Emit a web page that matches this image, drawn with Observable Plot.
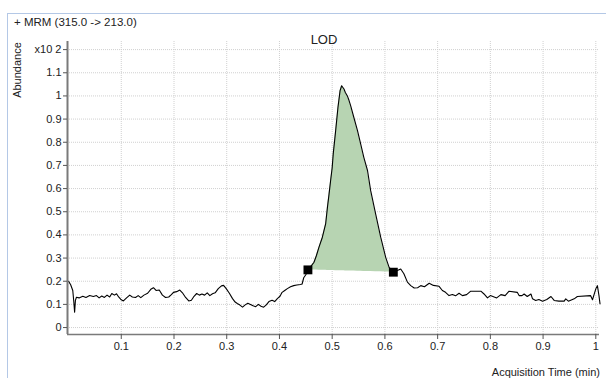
<!DOCTYPE html>
<html>
<head>
<meta charset="utf-8">
<script src="https://cdn.jsdelivr.net/npm/d3@7"></script>
<script src="https://cdn.jsdelivr.net/npm/@observablehq/plot@0.6"></script>
<style>
  html, body { margin: 0; padding: 0; background: #fff; }
  #wrap { position: relative; width: 606px; height: 378px; overflow: hidden; font-family: "Liberation Sans", Arial, sans-serif; }
  #wrap svg { position: absolute; left: 0; top: 0; }
  .frame { position: absolute; left: 7px; top: 13px; width: 600px; height: 370px; border-top: 1.5px solid #b4c8e6; border-left: 1.5px solid #b4c8e6; }
  .lbl { position: absolute; font-size: 11px; color: #222; white-space: nowrap; line-height: 1; }
</style>
</head>
<body>
<div id="wrap">
  <div class="frame"></div>
</div>
<script>
// Acquisition time (min)
const times = [
  0.000, 0.004, 0.008, 0.010, 0.0115, 0.013, 0.015, 0.020, 0.027, 0.033,
  0.040, 0.047, 0.053, 0.058, 0.063, 0.068, 0.073, 0.078, 0.082, 0.087,
  0.091, 0.095, 0.100, 0.104, 0.110, 0.116, 0.121, 0.127, 0.132, 0.137,
  0.143, 0.150, 0.156, 0.161, 0.166, 0.172, 0.178, 0.184, 0.190, 0.195,
  0.199, 0.205, 0.211, 0.216, 0.222, 0.228, 0.233, 0.238, 0.243, 0.248,
  0.253, 0.258, 0.263, 0.268, 0.273, 0.278, 0.284, 0.290, 0.294, 0.299,
  0.305, 0.311, 0.316, 0.320, 0.325, 0.330, 0.335, 0.340, 0.345, 0.350,
  0.355, 0.360, 0.365, 0.370, 0.375, 0.380, 0.386, 0.391, 0.396, 0.401,
  0.405, 0.410, 0.415, 0.421, 0.427, 0.433, 0.440, 0.443, 0.446, 0.450,
  0.454, 0.459, 0.4655, 0.470, 0.475, 0.4814, 0.4877, 0.491, 0.494, 0.497,
  0.500, 0.502, 0.5066, 0.511, 0.515, 0.518, 0.5224, 0.525, 0.5288, 0.532,
  0.535, 0.541, 0.548, 0.554, 0.560, 0.567, 0.573, 0.5825, 0.592, 0.6015,
  0.608, 0.616, 0.6237, 0.630, 0.636, 0.6427, 0.649, 0.6555, 0.662, 0.668,
  0.675, 0.684, 0.692, 0.7027, 0.709, 0.715, 0.7216, 0.728, 0.734, 0.7406,
  0.747, 0.755, 0.7628, 0.782, 0.788, 0.7945, 0.800, 0.806, 0.812, 0.820,
  0.828, 0.8355, 0.851, 0.8545, 0.860, 0.864, 0.870, 0.877, 0.880, 0.886,
  0.892, 0.899, 0.907, 0.915, 0.921, 0.930, 0.940, 0.943, 0.948, 0.959,
  0.965, 0.990, 0.9937, 1.000, 1.003, 1.006, 1.008
];
// Abundance (x10^2 counts)
const abundance = [
  0.200, 0.185, 0.160, 0.110, 0.066, 0.117, 0.131, 0.128, 0.135, 0.130,
  0.138, 0.134, 0.138, 0.128, 0.136, 0.130, 0.140, 0.132, 0.147, 0.140,
  0.146, 0.132, 0.120, 0.115, 0.128, 0.140, 0.132, 0.130, 0.138, 0.129,
  0.140, 0.148, 0.165, 0.172, 0.160, 0.162, 0.140, 0.130, 0.132, 0.142,
  0.152, 0.155, 0.162, 0.150, 0.130, 0.115, 0.118, 0.135, 0.147, 0.140,
  0.145, 0.140, 0.150, 0.138, 0.146, 0.150, 0.168, 0.180, 0.182, 0.168,
  0.148, 0.125, 0.110, 0.104, 0.097, 0.088, 0.098, 0.105, 0.100, 0.094,
  0.090, 0.100, 0.092, 0.088, 0.098, 0.112, 0.118, 0.112, 0.125, 0.135,
  0.152, 0.160, 0.168, 0.176, 0.181, 0.184, 0.186, 0.188, 0.215, 0.228,
  0.249, 0.262, 0.282, 0.310, 0.347, 0.390, 0.449, 0.519, 0.575, 0.634,
  0.690, 0.750, 0.850, 0.951, 1.023, 1.044, 1.030, 1.015, 1.000, 0.980,
  0.958, 0.908, 0.850, 0.793, 0.735, 0.678, 0.591, 0.490, 0.390, 0.303,
  0.260, 0.239, 0.246, 0.253, 0.232, 0.196, 0.181, 0.171, 0.172, 0.181,
  0.176, 0.191, 0.182, 0.178, 0.160, 0.152, 0.138, 0.143, 0.137, 0.148,
  0.138, 0.142, 0.157, 0.157, 0.145, 0.128, 0.138, 0.133, 0.128, 0.142,
  0.138, 0.157, 0.152, 0.138, 0.138, 0.145, 0.134, 0.145, 0.124, 0.117,
  0.121, 0.114, 0.121, 0.134, 0.117, 0.114, 0.114, 0.124, 0.114, 0.124,
  0.134, 0.138, 0.120, 0.167, 0.181, 0.138, 0.102
];
// Integration start/end markers
const markerTimes = [0.454, 0.616];
const markerValues = [0.249, 0.239];

const xTicks = [0.1, 0.2, 0.3, 0.4, 0.5, 0.6, 0.7, 0.8, 0.9, 1.0];
const xTickLabels = ["0.1", "0.2", "0.3", "0.4", "0.5", "0.6", "0.7", "0.8", "0.9", "1"];
const yTicks = [0, 0.1, 0.2, 0.3, 0.4, 0.5, 0.6, 0.7, 0.8, 0.9, 1.0, 1.1, 1.2];
const yTickLabels = ["0", "0.1", "0.2", "0.3", "0.4", "0.5", "0.6", "0.7", "0.8", "0.9", "1", "1.1", "x10 2"];

const trace = times.map((t, i) => ({t, v: abundance[i]}));
const [t0, t1] = markerTimes, [b0, b1] = markerValues;
const peak = trace.filter(d => d.t >= t0 && d.t <= t1)
  .map(d => ({t: d.t, v: d.v, base: b0 + (b1 - b0) * (d.t - t0) / (t1 - t0)}));
const markers = markerTimes.map((t, i) => ({t, v: markerValues[i]}));

const xDom = [-0.002, 1.007], yDom = [-0.03, 1.235];

const chart = Plot.plot({
  width: 606, height: 378,
  marginLeft: 67, marginRight: 7, marginTop: 41, marginBottom: 44,
  style: {fontFamily: "'Liberation Sans', Arial, sans-serif", fontSize: "11px", color: "#222", background: "transparent"},
  x: {domain: xDom, label: null},
  y: {domain: yDom, label: null},
  marks: [
    Plot.gridX(xTicks, {stroke: "#d0d0d0", strokeOpacity: 1, strokeDasharray: "1,1"}),
    Plot.gridY(yTicks, {stroke: "#d0d0d0", strokeOpacity: 1, strokeDasharray: "1,1"}),
    Plot.areaY(peak, {x: "t", y1: "base", y2: "v", fill: "#b7d4b2", fillOpacity: 1}),
    Plot.line(trace, {x: "t", y: "v", stroke: "#000", strokeWidth: 1.1}),
    Plot.dot(markers, {x: "t", y: "v", symbol: "square", r: 5, fill: "#000", stroke: "none"}),
    Plot.ruleX([xDom[0]], {stroke: "#7a7a7a", strokeWidth: 2}),
    Plot.ruleY([yDom[0]], {stroke: "#7a7a7a", strokeWidth: 1.5}),
    Plot.axisX(xTicks, {tickSize: 5, tickPadding: 3, stroke: "#555", tickFormat: (d, i) => xTickLabels[i], fill: "#222"}),
    Plot.axisY(yTicks, {tickSize: 4, tickPadding: 2, stroke: "#555", tickFormat: (d, i) => yTickLabels[i], fill: "#222"})
  ]
});
const wrap = document.getElementById("wrap");
wrap.appendChild(chart);

function addLabel(text, css) {
  const el = document.createElement("div");
  el.className = "lbl";
  el.textContent = text;
  Object.assign(el.style, css);
  wrap.appendChild(el);
  return el;
}
addLabel("+ MRM (315.0 -> 213.0)", {left: "14px", top: "17px", fontSize: "11.5px"});
addLabel("LOD", {left: "324px", top: "33px", fontSize: "13px", transform: "translateX(-50%)"});
addLabel("Abundance", {left: "17px", top: "70px", transform: "translate(-50%,-50%) rotate(-90deg)"});
addLabel("Acquisition Time (min)", {right: "6px", top: "367px"});
</script>
</body>
</html>
